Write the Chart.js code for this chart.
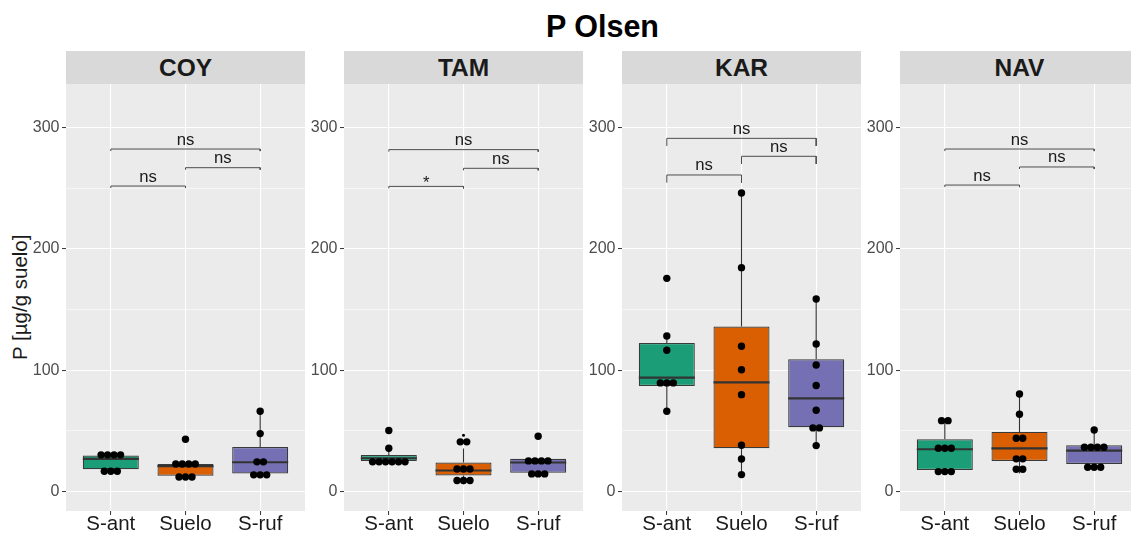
<!DOCTYPE html>
<html>
<head>
<meta charset="utf-8">
<script src="https://cdn.jsdelivr.net/npm/chart.js@4.4.1/dist/chart.umd.min.js"></script>
<style>
  html, body { margin: 0; padding: 0; background: #fff; }
  body { width: 1131px; height: 535px; overflow: hidden; position: relative; font-family: 'Liberation Sans', Arial, sans-serif; }
  #title { position: absolute; left: 0; width: 1205px; top: 11px; text-align: center; font-weight: bold; font-size: 30.5px; line-height: 30.5px; color: #000; }
  .strip { position: absolute; top: 51px; width: 239px; height: 33px; background: #D9D9D9; text-align: center; font-weight: bold; font-size: 24.5px; line-height: 33px; color: #1A1A1A; }
  #ytitle { position: absolute; left: -130px; top: 287px; width: 300px; height: 20.5px; line-height: 20.5px; font-size: 20.5px; text-align: center; color: #1A1A1A; transform: rotate(-90deg); }
  canvas { position: absolute; top: 84px; }
</style>
</head>
<body>
<div id="title">P Olsen</div>
<div id="ytitle">P [µg/g suelo]</div>
<script>
const panels = ['COY', 'TAM', 'KAR', 'NAV'];
const groups = ['S-ant', 'Suelo', 'S-ruf'];
const groupColors = ['#1B9E77', '#D95F02', '#7570B3'];
const yTicks = [0, 50, 100, 150, 200, 250, 300];
const yLabelled = [0, 100, 200, 300];

// dot values, per group: S-ant, Suelo, S-ruf
const coyPoints = [
  [30.3, 30.3, 30.3, 30.3, 16.8, 16.8, 16.8],
  [43.2, 22.8, 22.8, 22.8, 22.8, 12, 12, 12],
  [66.2, 47.8, 24.5, 24.5, 13.8, 13.8, 13.8]
];
const tamPoints = [
  [50.3, 35.7, 24.5, 24.5, 24.5, 24.5, 24.5, 24.5],
  [41, 41, 18.6, 18.6, 18.6, 9.2, 9.2, 9.2],
  [45.6, 25.3, 25.3, 25.3, 25.3, 14.6, 14.6, 14.6]
];
const karPoints = [
  [175.8, 128.3, 116.5, 89.6, 89.6, 89.6, 66.2],
  [246.2, 184.6, 119.8, 100.5, 79.9, 38.2, 26.9, 14],
  [158.8, 121.7, 104.4, 87.4, 67, 52.5, 52.5, 37.9]
];
const navPoints = [
  [58.5, 58.5, 35.7, 35.7, 35.7, 16.5, 16.5, 16.5],
  [80.5, 63.8, 44, 44, 27, 27, 18.4, 18.4],
  [50.8, 36.6, 36.6, 36.6, 36.6, 20.1, 20.1, 20.1]
];

// box stats per group: [lower whisker, q1, median, q3, upper whisker]
const coyBoxes = [[16.8, 18.4, 27, 29.7, 30.3], [12, 13, 21, 22.8, 22.8], [13.8, 14.9, 24.2, 36.8, 66.2]];
const tamBoxes = [[24.5, 25.3, 27.5, 30.2, 35.7], [6, 13.3, 17.4, 24, 35.5], [14.6, 15.6, 24, 27, 27]];
const karBoxes = [[66.2, 87.1, 94, 122.5, 128.3], [14, 35.7, 90.1, 136, 246.2], [37.9, 53, 76.9, 109, 158.8]];
const navBoxes = [[16.5, 17.9, 34.9, 43.1, 58.5], [15, 25.3, 35.7, 49.2, 80.5], [20.1, 22.8, 33.8, 38.2, 50.8]];

// boxplot outliers still visible next to the dots
const coyOutliers = [[], [], []];
const tamOutliers = [[], [46.5], []];
const karOutliers = [[], [], []];
const navOutliers = [[], [], []];

// significance brackets: S-ant/Suelo, Suelo/S-ruf, S-ant/S-ruf
const bracketPairs = [[0, 1], [1, 2], [0, 2]];
const coyBracketY = [251.9, 267, 282.4];
const tamBracketY = [251.6, 266.5, 281.9];
const karBracketY = [261, 276.4, 291.2];
const navBracketY = [252.7, 267.6, 282.4];
const coyBracketLabels = ['ns', 'ns', 'ns'];
const tamBracketLabels = ['*', 'ns', 'ns'];
const karBracketLabels = ['ns', 'ns', 'ns'];
const navBracketLabels = ['ns', 'ns', 'ns'];
const bracketTips = [1.7, 1.7, 6.3, 1.7];

const panelLeft = [66, 344, 622, 900];
const PANEL_W = 239, PANEL_H = 427, YAXIS_W = 50, XAXIS_H = 24;
const DOT_STEP = 0.087, BOX_HALF = 0.375;
const FONT = "'Liberation Sans', Arial, sans-serif";

Chart.defaults.font.family = FONT;

const allPoints = [coyPoints, tamPoints, karPoints, navPoints];
const allBoxes = [coyBoxes, tamBoxes, karBoxes, navBoxes];
const allOutliers = [coyOutliers, tamOutliers, karOutliers, navOutliers];
const allBracketY = [coyBracketY, tamBracketY, karBracketY, navBracketY];
const allBracketLabels = [coyBracketLabels, tamBracketLabels, karBracketLabels, navBracketLabels];

// centre equal values side by side, like a dotplot
function stackDots(values, center) {
  const counts = {}, seen = {};
  values.forEach(v => { counts[v] = (counts[v] || 0) + 1; });
  return values.map(v => {
    const k = seen[v] = (seen[v] || 0) + 1;
    return { x: center + ((k - 1) - (counts[v] - 1) / 2) * DOT_STEP, y: v };
  });
}

const panelBg = {
  id: 'panelBg',
  beforeDraw(chart) {
    const { ctx, chartArea: a } = chart;
    ctx.save();
    ctx.fillStyle = '#EBEBEB';
    ctx.fillRect(a.left, a.top, a.right - a.left, a.bottom - a.top);
    ctx.restore();
  }
};

function makePanel(p) {
  const strip = document.createElement('div');
  strip.className = 'strip';
  strip.style.left = panelLeft[p] + 'px';
  strip.textContent = panels[p];
  document.body.appendChild(strip);

  const canvas = document.createElement('canvas');
  canvas.width = PANEL_W + YAXIS_W;
  canvas.height = PANEL_H + XAXIS_H;
  canvas.style.left = (panelLeft[p] - YAXIS_W) + 'px';
  document.body.appendChild(canvas);

  const boxes = allBoxes[p];
  const dots = [], outl = [], medians = [], whiskers = [];
  allPoints[p].forEach((vals, i) => dots.push(...stackDots(vals, i)));
  allOutliers[p].forEach((vals, i) => vals.forEach(v => outl.push({ x: i, y: v })));
  boxes.forEach((b, i) => {
    medians.push({ x: i - BOX_HALF, y: b[2] }, { x: i + BOX_HALF, y: b[2] }, { x: i + BOX_HALF, y: null });
    whiskers.push({ x: i, y: b[3] }, { x: i, y: b[4] }, { x: i, y: null },
                  { x: i, y: b[1] }, { x: i, y: b[0] }, { x: i, y: null });
  });

  const tip = bracketTips[p];
  const bracketSets = bracketPairs.map(([a, b], k) => {
    const y = allBracketY[p][k];
    return {
      type: 'line',
      data: [{ x: a, y: y - tip }, { x: a, y: y }, { x: b, y: y }, { x: b, y: y - tip }],
      borderColor: '#4D4D4D', borderWidth: 1, pointRadius: 0, fill: false, order: 4
    };
  });

  const bracketText = {
    id: 'bracketText',
    afterDatasetsDraw(chart) {
      const { ctx, scales: { x, y } } = chart;
      ctx.save();
      ctx.font = '16.7px ' + FONT;
      ctx.fillStyle = '#1A1A1A';
      ctx.textAlign = 'center';
      ctx.textBaseline = 'alphabetic';
      bracketPairs.forEach(([a, b], k) => {
        const label = allBracketLabels[p][k];
        const m = ctx.measureText(label);
        const bottom = y.getPixelForValue(allBracketY[p][k]) - 4.5;
        ctx.fillText(label, x.getPixelForValue((a + b) / 2), bottom - m.actualBoundingBoxDescent);
      });
      ctx.restore();
    }
  };

  new Chart(canvas.getContext('2d'), {
    type: 'bar',
    data: {
      datasets: [
        {
          type: 'scatter', data: dots, pointRadius: 3.7, pointHoverRadius: 3.7,
          backgroundColor: '#000', borderWidth: 0, order: 0
        },
        {
          type: 'scatter', data: outl, pointRadius: 1.5, pointHoverRadius: 1.5,
          backgroundColor: '#000', borderWidth: 0, order: 0
        },
        {
          type: 'line', data: medians, borderColor: '#333333', borderWidth: 2.2,
          pointRadius: 0, fill: false, spanGaps: false, order: 1
        },
        {
          type: 'bar', data: boxes.map((b, i) => ({ x: i, y: [b[1], b[3]] })),
          backgroundColor: groupColors, borderColor: '#3A3A3A', borderWidth: 1.2,
          borderSkipped: false, categoryPercentage: 2 * BOX_HALF, barPercentage: 1, order: 2
        },
        {
          type: 'line', data: whiskers, borderColor: '#333333', borderWidth: 1.1,
          pointRadius: 0, fill: false, spanGaps: false, order: 3
        },
        ...bracketSets
      ]
    },
    options: {
      responsive: false,
      animation: false,
      events: [],
      layout: { padding: 0, autoPadding: false },
      plugins: { legend: { display: false }, tooltip: { enabled: false } },
      scales: {
        x: {
          type: 'linear', min: -0.6, max: 2.6, offset: false,
          afterBuildTicks: s => { s.ticks = groups.map((g, i) => ({ value: i })); },
          afterFit: s => { s.height = XAXIS_H; s.paddingLeft = 0; s.paddingRight = 0; },
          ticks: {
            callback: v => groups[v], color: '#1A1A1A', padding: -1,
            font: { size: 20.5, lineHeight: 1 }, maxRotation: 0, autoSkip: false
          },
          grid: { color: '#FFFFFF', lineWidth: 1.1, tickColor: '#333333', tickLength: 4, tickWidth: 1, offset: false },
          border: { display: false }
        },
        y: {
          type: 'linear', min: -16, max: 336,
          afterBuildTicks: s => { s.ticks = yTicks.map(v => ({ value: v })); },
          afterFit: s => { s.width = YAXIS_W; s.paddingTop = 0; s.paddingBottom = 0; },
          ticks: {
            callback: v => yLabelled.includes(v) ? String(v) : '',
            color: '#4D4D4D', padding: 2.5, font: { size: 16 }, autoSkip: false
          },
          grid: {
            color: '#FFFFFF',
            lineWidth: c => yLabelled.includes(c.tick.value) ? 1.1 : 0.55,
            tickColor: c => yLabelled.includes(c.tick.value) ? '#333333' : 'rgba(0,0,0,0)',
            tickLength: 4, tickWidth: 1
          },
          border: { display: false }
        }
      }
    },
    plugins: [panelBg, bracketText]
  });
}

panels.forEach((name, p) => makePanel(p));
</script>
</body>
</html>
